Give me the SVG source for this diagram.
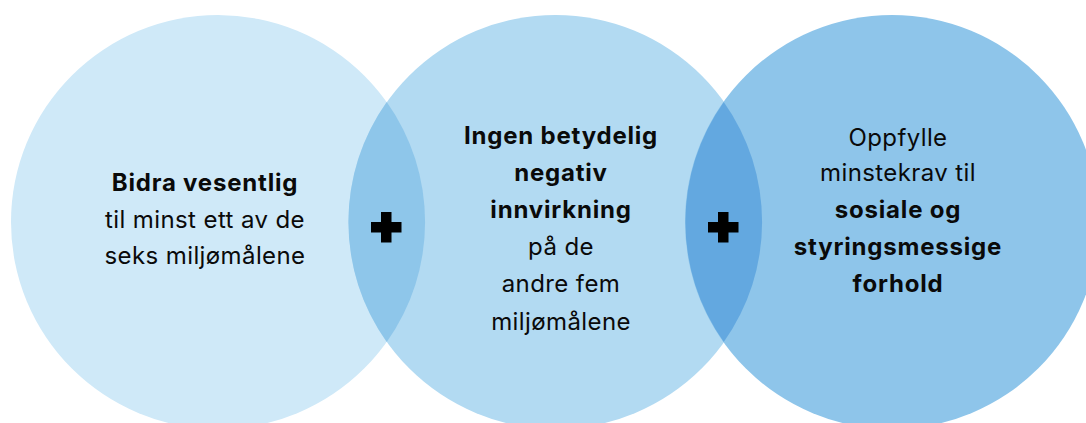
<svg xmlns="http://www.w3.org/2000/svg" width="1086" height="423" viewBox="0 0 1086 423">
<style>
text{font-family:Inter,"Liberation Sans",sans-serif;font-size:24px;fill:#0a0a0a;text-anchor:middle;letter-spacing:0.4px}
.b{font-weight:700;letter-spacing:0.8px}
.plus{fill:#000}
</style>
<rect width="1086" height="423" fill="#ffffff"/>
<g id="circle-left"><circle cx="218" cy="222" r="207" fill="#CFE9F8"/></g>
<g id="circle-middle"><circle cx="555.5" cy="222" r="207" fill="#B2DAF2"/></g>
<g id="circle-right"><circle cx="892" cy="222" r="207" fill="#8EC5EA"/></g>
<g id="lens-1"><path d="M386.75,102 A207,207 0 0 0 386.75,342 A207,207 0 0 0 386.75,102 Z" fill="#8EC6EA"/></g>
<g id="lens-2"><path d="M723.75,102 A207,207 0 0 0 723.75,342 A207,207 0 0 0 723.75,102 Z" fill="#63A8E0"/></g>
<g id="connectors">
<path class="plus" d="M381,212 h10.5 v10 h10 v10.5 h-10 v10 h-10.5 v-10 h-10 v-10.5 h10 Z"/>
<path class="plus" d="M718,212 h10.5 v10 h10 v10.5 h-10 v10 h-10.5 v-10 h-10 v-10.5 h10 Z"/>
</g>
<g id="text-left">
<text x="205" y="191" class="b">Bidra vesentlig</text>
<text x="205" y="228">til minst ett av de</text>
<text x="205" y="264">seks miljømålene</text>
</g>
<g id="text-middle">
<text x="561" y="144" class="b">Ingen betydelig</text>
<text x="561" y="181" class="b">negativ</text>
<text x="561" y="218" class="b">innvirkning</text>
<text x="561" y="255">på de</text>
<text x="561" y="292">andre fem</text>
<text x="561" y="330">miljømålene</text>
</g>
<g id="text-right">
<text x="898" y="146">Oppfylle</text>
<text x="898" y="181">minstekrav til</text>
<text x="898" y="218" class="b">sosiale og</text>
<text x="898" y="255" class="b">styringsmessige</text>
<text x="898" y="292" class="b">forhold</text>
</g>
</svg>
